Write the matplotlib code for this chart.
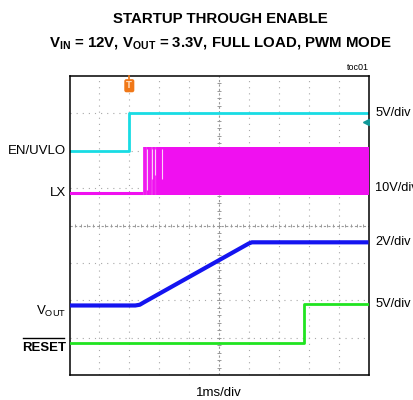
import matplotlib.pyplot as plt
import numpy as np

plt.rcParams['mathtext.default'] = 'regular'

# screen readings, in divisions (x: 0..10, y: 0..8 from bottom)
en_t = [0, 2.0, 2.0, 10]
en_v = [6.0, 6.0, 7.02, 7.02]

lx_low_t = [0, 2.47]
lx_low_v = [4.87, 4.87]
lx_lo, lx_hi = 4.82, 6.09
lx_start_pale, lx_dense = 2.46, 2.93
lx_pulses = [2.49, 2.51, 2.55, 2.61, 2.64, 2.67, 2.70, 2.73, 2.79, 2.82,
             2.84, 2.89, 2.91]
lx_gaps = [(2.58, 4.95), (2.76, 5.25), (2.86, 5.35), (3.09, 5.25)]

vout_t = [0, 2.2, 2.35, 2.5, 6.0, 6.1, 10]
vout_v = [1.86, 1.86, 1.88, 1.95, 3.52, 3.55, 3.55]

rst_t = [0, 7.85, 7.85, 10]
rst_v = [0.86, 0.86, 1.89, 1.89]

trig_t = 2.0
trig_level = 6.77

left_labels = ['EN/UVLO', 'LX', 'V$_{OUT}$', 'RESET']
left_y = [6.0, 4.87, 1.7, 0.72]
right_labels = ['5V/div', '10V/div', '2V/div', '5V/div']
right_y = [7.0, 5.0, 3.55, 1.89]

fig = plt.figure(figsize=(4.13, 4.0), dpi=100)
ax = fig.add_axes([69.5 / 413, 25 / 400, 299 / 413, 299 / 400])
ax.set_xlim(0, 10)
ax.set_ylim(0, 8)
ax.set_xticks([])
ax.set_yticks([])
for s in ax.spines.values():
    s.set_linewidth(1.1)

# graticule
dot = (0, (1, 4.5))
for x in range(1, 10):
    if x != 5:
        ax.axvline(x, color='#a8a8a8', lw=0.8, ls=dot, zorder=0)
for y in range(1, 8):
    if y != 4:
        ax.axhline(y, color='#a8a8a8', lw=0.8, ls=dot, zorder=0)
ax.axvline(5, color='#999999', lw=0.8, ls=(0, (2, 2)), zorder=0)
ax.axhline(4, color='#999999', lw=0.8, ls=(0, (2, 2)), zorder=0)
mx = np.arange(0.2, 10, 0.2)
my = np.arange(0.2, 8, 0.2)
ax.vlines(mx, 4 - 0.05, 4 + 0.05, color='#999999', lw=0.7, zorder=0)
ax.hlines(my, 5 - 0.06, 5 + 0.06, color='#999999', lw=0.7, zorder=0)

# EN/UVLO
ax.plot(en_t, en_v, color='#18dce4', lw=2.0, zorder=2)

# LX
ax.plot(lx_low_t, lx_low_v, color='#f010f0', lw=2.2, zorder=3)
ax.fill_between([lx_start_pale, lx_dense], lx_lo, lx_hi, color='#f8a8f4',
                lw=0, zorder=3)
ax.vlines(lx_pulses, lx_lo, lx_hi, color='#f010f0', lw=1.1, zorder=3)
ax.fill_between([lx_dense, 10], lx_lo, lx_hi, color='#f010f0', lw=0, zorder=3)
for gx, gy in lx_gaps:
    ax.vlines(gx, gy, lx_hi - 0.05, color='#fbd0f8', lw=0.8, zorder=3)

# VOUT
ax.plot(vout_t, vout_v, color='#1414f0', lw=3.0, zorder=4,
        solid_capstyle='butt')

# RESET
ax.plot(rst_t, rst_v, color='#20e420', lw=2.0, zorder=5)

# trigger position and level markers
ax.plot([trig_t, trig_t], [7.93, 8.0], color='#f07818', lw=1.2,
        clip_on=False, zorder=6)
ax.text(trig_t, 7.74, 'T', ha='center', va='center', fontsize=6,
        fontweight='bold', color='#ffd8b8',
        bbox=dict(boxstyle='round,pad=0.25', fc='#f07818', ec='none'),
        zorder=6)
ax.plot(9.9, trig_level, marker='<', color='#109898', ms=4.5, zorder=6)

# channel labels
for lab, y in zip(left_labels, left_y):
    ax.text(-0.12, y, lab, ha='right', va='center', fontsize=9.5,
            family='Liberation Sans', fontweight='bold' if lab == 'RESET' else 'normal')
ax.plot([-1.55, -0.2], [0.99, 0.99], color='black', lw=1.0, clip_on=False)
for lab, y in zip(right_labels, right_y):
    ax.text(10.22, y, lab, ha='left', va='center', fontsize=9.2,
            family='Liberation Sans')

ax.text(5, -0.48, '1ms/div', ha='center', va='center', fontsize=9.5,
        family='Liberation Sans')
ax.text(10, 8.12, 'toc01', ha='right', va='bottom', fontsize=6.5,
        family='Liberation Sans')

fig.text(0.533, 0.952, 'STARTUP THROUGH ENABLE', ha='center', va='center',
         fontsize=10.8, fontweight='bold', family='Liberation Sans')
fig.text(0.533, 0.893, 'V$_{IN}$ = 12V, V$_{OUT}$ = 3.3V, FULL LOAD, PWM MODE',
         ha='center', va='center', fontsize=10.8, fontweight='bold',
         family='Liberation Sans')

fig.savefig('out.png', dpi=100)
